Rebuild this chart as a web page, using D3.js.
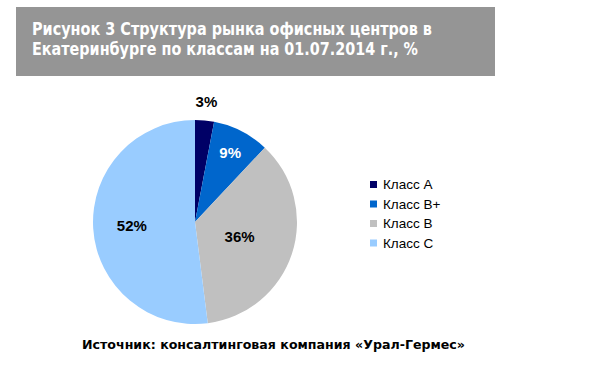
<!DOCTYPE html>
<html><head><meta charset="utf-8">
<script src="https://cdnjs.cloudflare.com/ajax/libs/d3/7.8.5/d3.min.js"></script>
<style>body{margin:0;background:#fff}svg{display:block}</style>
</head><body>
<svg id="c" width="601" height="365"></svg>
<script>
const categories = ["Класс A", "Класс B+", "Класс B", "Класс C"];
const values = [3, 9, 36, 52];
const colors = ["#000066", "#0066CC", "#C0C0C0", "#99CCFF"];
const labelColors = ["#000", "#fff", "#000", "#000"];
const labelRadius = [1.19, 0.76, 0.46, 0.62];
const titleLines = ["Рисунок 3 Структура рынка офисных центров в", "Екатеринбурге по классам на 01.07.2014 г., %"];
const titleWidths = [400, 386];
const sourceText = "Источник: консалтинговая компания «Урал-Гермес»";

const svg = d3.select("#c");
svg.append("rect").attr("x",16).attr("y",7).attr("width",479).attr("height",69).attr("fill","#959595");
titleLines.forEach((t,i)=>{
  svg.append("text").attr("fill","#fff").attr("font-family","DejaVu Sans").attr("font-weight","bold").attr("font-size",17.5)
    .attr("x",32).attr("y",35+i*20).attr("textLength",titleWidths[i]).attr("lengthAdjust","spacingAndGlyphs").text(t);
});

const cx=195, cy=222, r=102;
const pie = d3.pie().sort(null).value(d=>d)(values);
const arc = d3.arc().innerRadius(0).outerRadius(r);
const g = svg.append("g").attr("transform",`translate(${cx},${cy})`);
g.selectAll("path").data(pie).join("path").attr("d",arc).attr("fill",(d,i)=>colors[i]);
g.selectAll("text").data(pie).join("text")
  .attr("transform",(d,i)=>{const a=(d.startAngle+d.endAngle)/2, rr=r*labelRadius[i];return `translate(${Math.sin(a)*rr},${-Math.cos(a)*rr})`;})
  .attr("text-anchor","middle").attr("dy","0.36em")
  .attr("font-family","Liberation Sans, Arial").attr("font-weight","bold").attr("font-size",15)
  .attr("fill",(d,i)=>labelColors[i]).text(d=>d.data+"%");

const lg = svg.append("g");
categories.forEach((c,i)=>{
  const y=189+i*19.5;
  lg.append("rect").attr("x",370).attr("y",y-8).attr("width",7).attr("height",7).attr("fill",colors[i]);
  lg.append("text").attr("x",383).attr("y",y).attr("font-family","Liberation Sans, Arial").attr("font-size",13.5).attr("fill","#000").text(c);
});

svg.append("text").attr("x",82).attr("y",349).attr("font-family","DejaVu Sans").attr("font-weight","bold").attr("font-size",12.5)
  .attr("textLength",383).attr("lengthAdjust","spacingAndGlyphs").attr("fill","#000").text(sourceText);
</script>
</body></html>
